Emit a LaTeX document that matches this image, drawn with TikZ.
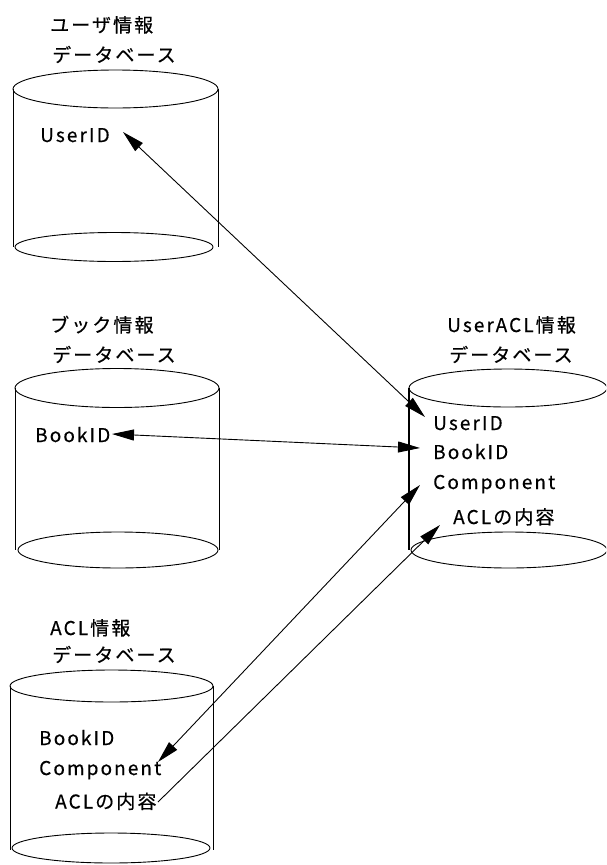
\documentclass[tikz,border=0pt]{standalone}
\usepackage{fontspec}
\setmainfont{Noto Sans CJK JP}[LetterSpace=11,FakeBold=0.4]
\usetikzlibrary{arrows.meta,calc}
\begin{document}
\begin{tikzpicture}[x=1pt,y=-1pt,
  every node/.style={inner sep=0pt,anchor=base west,font=\fontsize{19}{21}\selectfont},
  rim/.style={line width=0.9pt},
  link/.style={line width=0.9pt,{Triangle[length=22pt,width=11pt]}-{Triangle[length=22pt,width=11pt]}},
  onelink/.style={line width=0.9pt,-{Triangle[length=22pt,width=11pt]}}]
\useasboundingbox (0,0) rectangle (606,865);
\clip (0,0) rectangle (606,865);

% user database
\draw[rim] (13,89) -- (13,247) (218,89) -- (218,247);
\draw[rim] (115.5,89) ellipse [x radius=102.5, y radius=19];
\draw[rim] (114,247) ellipse [x radius=99, y radius=14.5];
\node (t1a) at (50,32) {ユーザ情報};
\node (t1b) at (52,62) {データベース};
\node (u1) at (40,142) {UserID};

% book database
\draw[rim] (15,388) -- (15,550) (219,388) -- (219,550);
\draw[rim] (117,388) ellipse [x radius=102, y radius=19.5];
\draw[rim] (118,550) ellipse [x radius=100, y radius=18];
\node (t2a) at (50,332) {ブック情報};
\node (t2b) at (52,362) {データベース};
\node (b2) at (35,442) {BookID};

% ACL database
\draw[rim] (10,686) -- (10,850) (213,686) -- (213,850);
\draw[rim] (111.5,686) ellipse [x radius=101.5, y radius=16];
\draw[rim] (111,848) ellipse [x radius=99, y radius=15];
\node (t3a) at (50,635) {ACL情報};
\node (t3b) at (52,662) {データベース};
\node (b3) at (39,745) {BookID};
\node (c3) at (39,775) {Component};
\node (a3) at (55,808.5) {ACLの内容};

% UserACL database
\draw[line width=1.4pt] (409,388) -- (409,550);
\draw[rim] (607,388) -- (607,550);
\draw[rim] (508,388) ellipse [x radius=99, y radius=19];
\draw[rim] (509,550) ellipse [x radius=98, y radius=18];
\node (t4a) at (447,332) {UserACL情報};
\node (t4b) at (449,362) {データベース};
\node (u4) at (433,430) {UserID};
\node (b4) at (433,459) {BookID};
\node (c4) at (433,489) {Component};
\node (a4) at (453,524) {ACLの内容};

% connector end points beside the field names
\coordinate (pu1) at ($(u1.base west)+(83,-10)$);
\coordinate (pu4) at ($(u4.base west)+(-8,-13)$);
\coordinate (pb2) at ($(b2.base west)+(77,-8)$);
\coordinate (pb4) at ($(b4.base west)+(-13,-11)$);
\coordinate (pc4) at ($(c4.base west)+(-13,-4)$);
\coordinate (pc3) at ($(c3.base west)+(119,-13)$);
\coordinate (pa3) at ($(a3.base west)+(103,-6.5)$);
\coordinate (pa4) at ($(a4.base west)+(-13,1)$);

\draw[link] (pu1) -- (pu4);
\draw[link] (pb2) -- (pb4);
\draw[link] (pc4) -- (pc3);
\draw[onelink] (pa3) -- (pa4);
\end{tikzpicture}
\end{document}
